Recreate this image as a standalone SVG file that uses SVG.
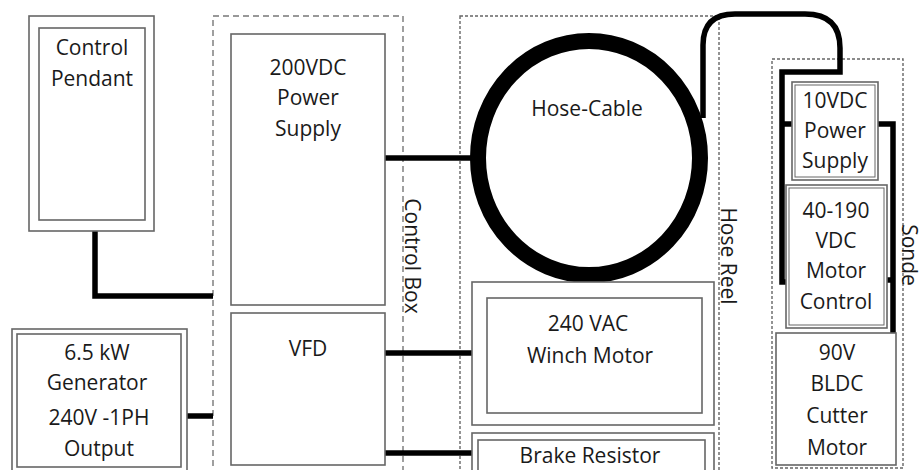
<svg xmlns="http://www.w3.org/2000/svg" width="924" height="470" viewBox="0 0 924 470">
<style>
  .box{fill:#fff;stroke:#666;stroke-width:1.6}
  .dash{fill:none;stroke:#777;stroke-width:1.4;stroke-dasharray:6,4}
  .dot{fill:none;stroke:#666;stroke-width:1.4;stroke-dasharray:3,2}
  .wire{fill:none;stroke:#000;stroke-width:5.5}
  text{font-family:"Open Sans","Liberation Sans",sans-serif;font-size:21px;fill:#1a1a1a;text-anchor:middle;dominant-baseline:central}
</style>
<rect width="924" height="470" fill="#fff"/>
<g id="control-box-frame">
  <rect class="dash" x="213" y="16" width="190" height="470"/>
  <text transform="translate(413,256) rotate(90)">Control Box</text>
</g>
<g id="hose-reel-frame">
  <rect class="dot" x="460" y="16" width="259" height="470"/>
  <text transform="translate(729,256) rotate(90)">Hose Reel</text>
</g>
<g id="sonde-frame">
  <rect class="dot" x="772" y="59" width="131" height="409"/>
  <text transform="translate(910,255) rotate(90)">Sonde</text>
</g>
<g id="connectors">
  <path class="wire" d="M95,231 L95,296 L213,296"/>
  <path class="wire" d="M385,158 L478,158"/>
  <path class="wire" d="M385,353 L472,353"/>
  <path class="wire" d="M385,453 L472,453"/>
  <path class="wire" d="M187,416 L213,416"/>
  <path class="wire" d="M703,118 L703,45 Q703,14 735,14 L805,14 Q840,14 840,48 L840,72 L782,72 L782,282 L790,282"/>
  <path class="wire" d="M782,124 L792,124"/>
  <path class="wire" d="M878,124 L893,124 L893,333"/>
  <path class="wire" d="M878,280 L893,280"/>
</g>
<g id="control-pendant">
  <rect class="box" x="29" y="16" width="125" height="215"/>
  <rect class="box" x="39" y="28" width="106" height="192"/>
  <text x="92" y="47">Control</text>
  <text x="92" y="78">Pendant</text>
</g>
<g id="power-supply-200">
  <rect class="box" x="231" y="34" width="154" height="271"/>
  <text x="308" y="67">200VDC</text>
  <text x="308" y="97">Power</text>
  <text x="308" y="128">Supply</text>
</g>
<g id="vfd">
  <rect class="box" x="231" y="313" width="154" height="152"/>
  <text x="308" y="348">VFD</text>
</g>
<g id="generator">
  <rect class="box" x="12" y="329" width="175" height="150"/>
  <rect class="box" x="17" y="334" width="164" height="133"/>
  <text x="97" y="352">6.5 kW</text>
  <text x="97" y="382">Generator</text>
  <text x="99" y="417">240V -1PH</text>
  <text x="99" y="448">Output</text>
</g>
<g id="hose-cable">
  <ellipse cx="589" cy="158" rx="111" ry="117" fill="none" stroke="#000" stroke-width="16"/>
  <text x="587" y="108">Hose-Cable</text>
</g>
<g id="winch-motor">
  <rect class="box" x="472" y="282" width="242" height="143"/>
  <rect class="box" x="487" y="298" width="215" height="115"/>
  <text x="588" y="323">240 VAC</text>
  <text x="590" y="355">Winch Motor</text>
</g>
<g id="brake-resistor">
  <rect class="box" x="472" y="433" width="242" height="50"/>
  <rect class="box" x="478" y="440" width="227" height="40"/>
  <text x="590" y="455">Brake Resistor</text>
</g>
<g id="power-supply-10">
  <rect class="box" x="792" y="82" width="86" height="98"/>
  <rect class="box" x="795" y="85" width="80" height="92" style="stroke-width:1"/>
  <text x="835" y="100">10VDC</text>
  <text x="835" y="130">Power</text>
  <text x="835" y="160">Supply</text>
</g>
<g id="motor-control">
  <rect class="box" x="786" y="185" width="101" height="143"/>
  <rect class="box" x="789" y="188" width="95" height="137" style="stroke-width:1"/>
  <text x="836" y="210">40-190</text>
  <text x="836" y="240">VDC</text>
  <text x="836" y="270">Motor</text>
  <text x="836" y="301">Control</text>
</g>
<g id="cutter-motor">
  <rect class="box" x="776" y="333" width="120" height="132"/>
  <text x="837" y="352">90V</text>
  <text x="837" y="383">BLDC</text>
  <text x="837" y="415">Cutter</text>
  <text x="837" y="447">Motor</text>
</g>
</svg>
